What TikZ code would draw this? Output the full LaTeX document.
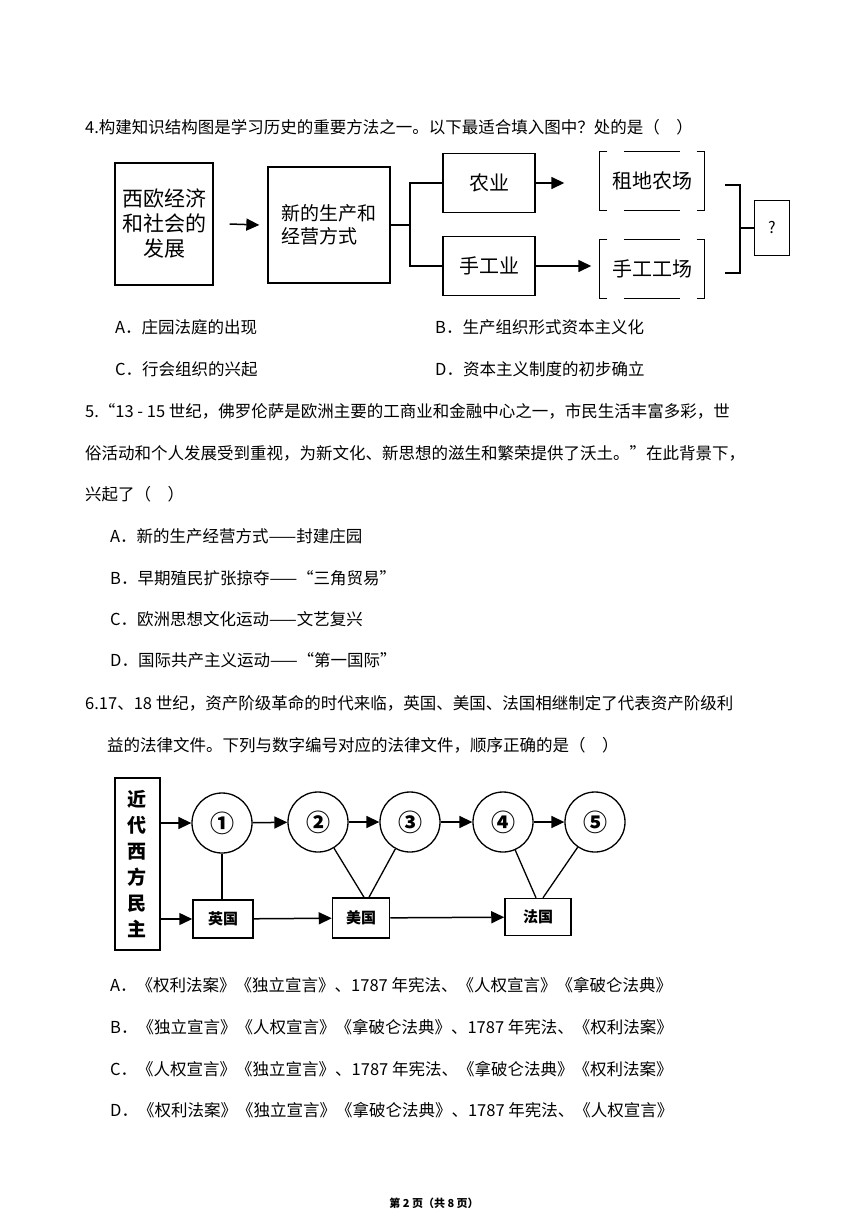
\documentclass[tikz,border=0pt]{standalone}
\usepackage{fontspec}
\setmainfont{Noto Sans CJK SC}
\usetikzlibrary{arrows.meta}
\begin{document}
\begin{tikzpicture}[x=1pt,y=-1pt,
 txt/.style={anchor=west,inner sep=0pt,font=\fontsize{16.5}{20}\selectfont},
 bx/.style={draw,line width=1.3pt,inner sep=0pt},
 ar/.style={-{Triangle[length=13pt,width=12pt]},line width=1.5pt},
 ln/.style={line width=1.3pt},
 circ/.style={draw,circle,line width=1.3pt,minimum size=60pt,inner sep=0pt,font=\bfseries\fontsize{24}{26}\selectfont},
 cb/.style={draw,line width=1.5pt,inner sep=0pt,font=\bfseries\fontsize{15}{18}\selectfont}]
\fill[white] (0,0) rectangle (868,1227);
\useasboundingbox (0,0) rectangle (868,1227);
\node[txt] (q4) at (85,127) {4.构建知识结构图是学习历史的重要方法之一。以下最适合填入图中？处的是（\quad）};
% diagram 1
\node[bx,minimum width=98pt,minimum height=122pt,align=center,font=\fontsize{21}{25}\selectfont] (b1) at (164,224) {西欧经济\\和社会的\\发展};
\node[bx,minimum width=122pt,minimum height=116pt,align=left,font=\fontsize{19}{23}\selectfont] (b2) at (329,225) {新的生产和\\经营方式};
\node[bx,minimum width=92pt,minimum height=59pt,font=\fontsize{20}{24}\selectfont] (ny) at (489,183) {农业};
\node[bx,minimum width=92pt,minimum height=59pt,font=\fontsize{20}{24}\selectfont] (sg) at (489,266) {手工业};
\node[minimum width=105pt,minimum height=58pt,inner sep=0pt,font=\fontsize{20}{24}\selectfont] (zd) at (652,181) {租地农场};
\node[minimum width=105pt,minimum height=58pt,inner sep=0pt,font=\fontsize{20}{24}\selectfont] (sc) at (652,269) {手工工场};
\foreach \n in {zd,sc}{
 \draw[ln] ([xshift=8pt]\n.north west) -| (\n.south west) -- ++(8pt,0);
 \draw[ln] ([xshift=-8pt]\n.north east) -| (\n.south east) -- ++(-8pt,0);
 \draw[ln] ([xshift=25pt]\n.north west) -- ([xshift=-25pt]\n.north east);
 \draw[ln] ([xshift=25pt]\n.south west) -- ([xshift=-25pt]\n.south east);
}
\node[bx,minimum width=35pt,minimum height=55pt,font=\fontsize{16}{20}\selectfont] (q) at (772,228) {?};
\draw[ar] ([xshift=16pt]b1.east) -- ([xshift=-8pt]b2.west);
\coordinate (j1) at (410,225);
\draw[ln] (b2.east) -- (j1);
\draw[ln] (ny.west) -| (j1) |- (sg.west);
\draw[ar] (ny.east) -- ([xshift=-35pt]zd.west|-ny.east);
\draw[ar] (sg.east) -- ([xshift=-8pt]sc.west|-sg.east);
\coordinate (j2) at (740,228);
\draw[ln] (725,185) -- (740,185) -- (740,273) -- (725,273);
\draw[ln] (j2) -- (q.west);
% options
\node[txt] at (115,327) {A．庄园法庭的出现};
\node[txt] at (435,327) {B．生产组织形式资本主义化};
\node[txt] at (115,369) {C．行会组织的兴起};
\node[txt] at (435,369) {D．资本主义制度的初步确立};
% Q5
\node[txt] at (85,411) {5.“13 - 15 世纪，佛罗伦萨是欧洲主要的工商业和金融中心之一，市民生活丰富多彩，世};
\node[txt] at (85,453) {俗活动和个人发展受到重视，为新文化、新思想的滋生和繁荣提供了沃土。”在此背景下，};
\node[txt] at (85,494) {兴起了（\quad）};
\node[txt] at (110,536) {A．新的生产经营方式——封建庄园};
\node[txt] at (110,578) {B．早期殖民扩张掠夺——“三角贸易”};
\node[txt] at (110,619) {C．欧洲思想文化运动——文艺复兴};
\node[txt] at (110,660) {D．国际共产主义运动——“第一国际”};
% Q6
\node[txt] at (85,703) {6.17、18 世纪，资产阶级革命的时代来临，英国、美国、法国相继制定了代表资产阶级利};
\node[txt] at (107,745) {益的法律文件。下列与数字编号对应的法律文件，顺序正确的是（\quad）};
% diagram 2
\node[draw,line width=2pt,minimum width=45pt,minimum height=172pt,inner sep=0pt,align=center,font=\bfseries\fontsize{19}{26}\selectfont] (v) at (137,864) {近\\代\\西\\方\\民\\主};
\node[circ] (c1) at (222,823) {①};
\node[circ] (c2) at (318,822) {②};
\node[circ] (c3) at (410,822) {③};
\node[circ] (c4) at (503,822) {④};
\node[circ] (c5) at (595,822) {⑤};
\node[cb,minimum width=60pt,minimum height=38pt] (e) at (223,919) {英国};
\node[cb,minimum width=57pt,minimum height=40pt] (m) at (361,918) {美国};
\node[cb,minimum width=66pt,minimum height=37pt] (f) at (538,917) {法国};
\draw[ar] (v.east|-c1) -- (c1);
\draw[ar] (c1) -- (c2);
\draw[ar] (c2) -- (c3);
\draw[ar] (c3) -- (c4);
\draw[ar] (c4) -- (c5);
\draw[ar] (v.east|-e) -- (e);
\draw[ar] (e) -- (m);
\draw[ar] (m) -- (f);
\draw[ln] (c1) -- (c1|-e.north);
\draw[ln] (c2) -- ([xshift=3pt]m.north);
\draw[ln] (c3) -- ([xshift=8pt]m.north);
\draw[ln] (c4) -- ([xshift=-2pt]f.north);
\draw[ln] (c5) -- ([xshift=5pt]f.north);
% options
\node[txt] at (110,985) {A．《权利法案》《独立宣言》、1787 年宪法、《人权宣言》《拿破仑法典》};
\node[txt] at (110,1027) {B．《独立宣言》《人权宣言》《拿破仑法典》、1787 年宪法、《权利法案》};
\node[txt] at (110,1069) {C．《人权宣言》《独立宣言》、1787 年宪法、《拿破仑法典》《权利法案》};
\node[txt] at (110,1110) {D．《权利法案》《独立宣言》《拿破仑法典》、1787 年宪法、《人权宣言》};
\node[inner sep=0pt,font=\bfseries\fontsize{11}{13}\selectfont] (ft) at (434,1203) {第 2 页（共 8 页）};
\end{tikzpicture}
\end{document}
